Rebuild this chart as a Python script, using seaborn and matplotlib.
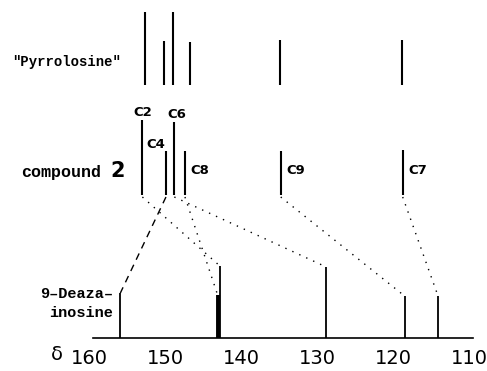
import numpy as np
import pandas as pd
import matplotlib
matplotlib.use("Agg")
import matplotlib.pyplot as plt
import matplotlib.transforms as mtransforms
import seaborn as sns

# ---- data (13C chemical shifts, ppm, and relative stick heights) ----
pyrrolosine_shift = [153.2, 150.7, 149.5, 147.2, 135.4, 119.3]
pyrrolosine_height = [73, 44, 73, 43, 45, 45]

cmpd2_labels = ["C2", "C4", "C6", "C8", "C9", "C7"]
cmpd2_shift = [153.5, 150.4, 149.3, 147.9, 135.3, 119.25]
cmpd2_height = [75, 44, 73, 44, 44, 45]

deaza_shift = [156.4, 143.6, 143.3, 129.3, 119.0, 114.6]
deaza_height = [45, 43, 72, 71, 42, 42]
deaza_width = [1.3, 2.8, 1.3, 1.3, 1.3, 1.3]

# correlations compound 2 -> 9-deazainosine
link_from = ["C2", "C4", "C6", "C8", "C9", "C7"]
link_to = [143.3, 156.4, 129.3, 143.6, 119.0, 114.6]
link_style = ["dotted", "dashed", "dotted", "dotted", "dotted", "dotted"]

xticks = [160, 150, 140, 130, 120, 110]

# ---- figure ----
sns.set_theme(style="white")
plt.rcParams["font.family"] = ["DejaVu Sans"]
plt.rcParams["text.color"] = "black"
plt.rcParams["xtick.color"] = "black"
plt.rcParams["xtick.labelcolor"] = "black"

W, H = 487, 371
fig = plt.figure(figsize=(W / 100, H / 100), dpi=100)
ax = fig.add_axes([93 / W, 33 / H, (473 - 93) / W, (H - 33) / H])
ax.set_xlim(160, 110)
ax.set_ylim(0, 338)

base_pyr, base_c2, base_dz = 253, 143, 0

df_pyr = pd.DataFrame({"shift": pyrrolosine_shift, "h": pyrrolosine_height})
df_c2 = pd.DataFrame({"label": cmpd2_labels, "shift": cmpd2_shift, "h": cmpd2_height})
df_dz = pd.DataFrame({"shift": deaza_shift, "h": deaza_height, "w": deaza_width})

ax.vlines(df_pyr["shift"], base_pyr, base_pyr + df_pyr["h"], color="black", lw=1.5)
ax.vlines(df_c2["shift"], base_c2, base_c2 + df_c2["h"], color="black", lw=1.5)
for _, r in df_dz.iterrows():
    ax.vlines(r["shift"], base_dz, base_dz + r["h"], color="black", lw=r["w"])

# correlation lines
c2map = dict(zip(cmpd2_labels, cmpd2_shift))
dzmap = dict(zip(deaza_shift, deaza_height))
rows = []
for i, (f, t, s) in enumerate(zip(link_from, link_to, link_style)):
    rows.append({"x": c2map[f], "y": base_c2 - 2, "u": i, "style": s})
    rows.append({"x": t, "y": base_dz + dzmap[t], "u": i, "style": s})
links = pd.DataFrame(rows)
for i, g in links.groupby("u"):
    ls = (0, (1, 4.5)) if g["style"].iloc[0] == "dotted" else (0, (5, 4))
    sns.lineplot(data=g, x="x", y="y", ax=ax, color="black", lw=1.0,
                 linestyle=ls, sort=False, estimator=None, legend=False)

# C-labels
for lab, x, h in zip(cmpd2_labels, cmpd2_shift, cmpd2_height):
    if lab in ("C2", "C6", "C4"):
        dx = 1.3 if lab == "C4" else (0.0 if lab == "C2" else -0.35)
        ax.text(x + dx, base_c2 + h + 7, lab,
                ha="center", va="center", fontsize=9.5, fontweight="bold",
                color="black")
    else:
        ax.text(x - 0.7, base_c2 + 25, lab, ha="left", va="center",
                fontsize=9.5, fontweight="bold", color="black")

# axis styling
for sp in ["top", "left", "right"]:
    ax.spines[sp].set_visible(False)
ax.spines["bottom"].set_linewidth(1.2)
ax.spines["bottom"].set_color("black")
ax.set_yticks([])
ax.set_xticks(xticks)
ax.set_xticklabels([str(t) for t in xticks], fontsize=14, color="black")
ax.tick_params(axis="x", direction="out", length=5, width=1, pad=3, colors="black")
off = mtransforms.ScaledTranslation(-4 / 100, 0, fig.dpi_scale_trans)
for lbl in ax.get_xticklabels():
    lbl.set_transform(lbl.get_transform() + off)
ax.set_xlabel("")
ax.set_ylabel("")

def fx(px):
    return px / W

def fy(py):
    return 1 - py / H

mono = ["Liberation Mono", "DejaVu Sans Mono"]
fig.text(fx(57), fy(355), "δ", fontsize=14, ha="center", va="center", color="black")
fig.text(fx(121), fy(62), '"Pyrrolosine"', fontsize=10, ha="right", va="center",
         family=mono, fontweight="bold", color="black")
fig.text(fx(101), fy(173), "compound", fontsize=12, ha="right", va="center",
         family=mono, fontweight="bold", color="black")
fig.text(fx(110), fy(171), "2", fontsize=15, ha="left", va="center",
         fontweight="bold", color="black")
fig.text(fx(113), fy(294), "9–Deaza–", fontsize=11, ha="right", va="center",
         family=mono, fontweight="bold", color="black")
fig.text(fx(113), fy(313), "inosine", fontsize=11, ha="right", va="center",
         family=mono, fontweight="bold", color="black")

fig.savefig("out.png", dpi=100)
